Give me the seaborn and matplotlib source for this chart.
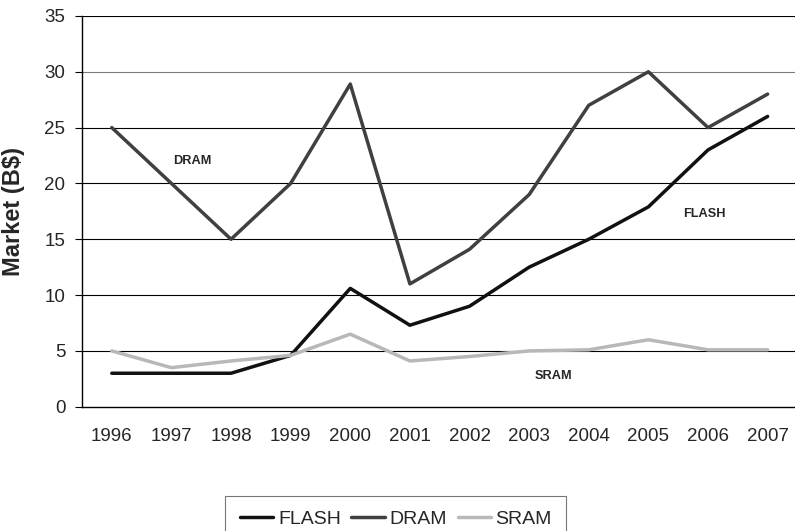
import matplotlib
matplotlib.use("Agg")
import matplotlib.pyplot as plt
import seaborn as sns
import pandas as pd
import numpy as np
from matplotlib.lines import Line2D

years = ["1996", "1997", "1998", "1999", "2000", "2001", "2002", "2003", "2004", "2005", "2006", "2007"]
flash = [3.0, 3.0, 3.0, 4.6, 10.6, 7.3, 9.0, 12.5, 15.0, 17.9, 23.0, 26.0]
dram = [25.0, 20.0, 15.0, 20.0, 28.9, 11.0, 14.1, 19.0, 27.0, 30.0, 25.0, 28.0]
sram = [5.0, 3.5, 4.1, 4.6, 6.5, 4.1, 4.5, 5.0, 5.1, 6.0, 5.1, 5.1]
series = ["FLASH", "DRAM", "SRAM"]
yticks = [0, 5, 10, 15, 20, 25, 30, 35]

sns.set_style("white")
plt.rcParams['font.family'] = ['Liberation Sans', 'DejaVu Sans']

rows = []
for name, vals in zip(series, [flash, dram, sram]):
    for i, (yr, v) in enumerate(zip(years, vals)):
        rows.append({"idx": i, "year": yr, "value": v, "series": name})
df = pd.DataFrame(rows)

fig = plt.figure(figsize=(7.95, 5.31), dpi=100)
ax = fig.add_axes([0.1031, 0.234, 0.9, 0.736])

palette = {"FLASH": "#111111", "DRAM": "#404040", "SRAM": "#b8b8b8"}
sns.lineplot(data=df, x="idx", y="value", hue="series", palette=palette,
             linewidth=2.5, ax=ax, legend=False, sort=False)

for y in yticks[1:]:
    ax.axhline(y, color="#7a7a7a" if y == 30 else "#000000", linewidth=0.8, zorder=0)

ax.set_xlim(-0.5, 11.5)
ax.set_ylim(0, 35)
ax.set_yticks(yticks)
ax.set_yticklabels([str(t) for t in yticks], fontsize=13.5)
ax.set_xticks(range(len(years)))
ax.set_xticklabels(years, fontsize=13.5)
ax.set_xticks(np.arange(-0.5, 11.6, 1.0), minor=True)
ax.tick_params(axis="x", which="major", length=0, pad=15)
ax.tick_params(axis="x", which="minor", length=5, width=0.8, direction="out", color="black")
ax.tick_params(axis="y", length=5, width=0.8, direction="out", color="black", pad=7, left=True)
ax.set_xlabel("")
ax.set_ylabel("Market (B$)", fontsize=17, fontweight="bold")
ax.yaxis.set_label_coords(-0.079, 0.5)

for side in ["top", "right"]:
    ax.spines[side].set_visible(False)
for side in ["left", "bottom"]:
    ax.spines[side].set_color("black")
    ax.spines[side].set_linewidth(1.0)

ax.text(1.35, 22.0, "DRAM", fontsize=9.2, fontweight="bold", ha="center", va="center")
ax.text(9.94, 17.27, "FLASH", fontsize=9.2, fontweight="bold", ha="center", va="center")
ax.text(7.4, 2.78, "SRAM", fontsize=9.2, fontweight="bold", ha="center", va="center")

handles = [Line2D([0], [0], color=palette[s], linewidth=2.5) for s in series]
leg = fig.legend(handles, series, loc="upper center", bbox_to_anchor=(0.498, 1 - 496 / 531),
                 ncol=3, fontsize=14, frameon=True, fancybox=False, handlelength=1.7,
                 handletextpad=0.25, columnspacing=0.55, borderpad=0.75, borderaxespad=0)
leg.get_frame().set_edgecolor("#555555")
leg.get_frame().set_linewidth(0.8)

fig.savefig("out.png", dpi=100)
